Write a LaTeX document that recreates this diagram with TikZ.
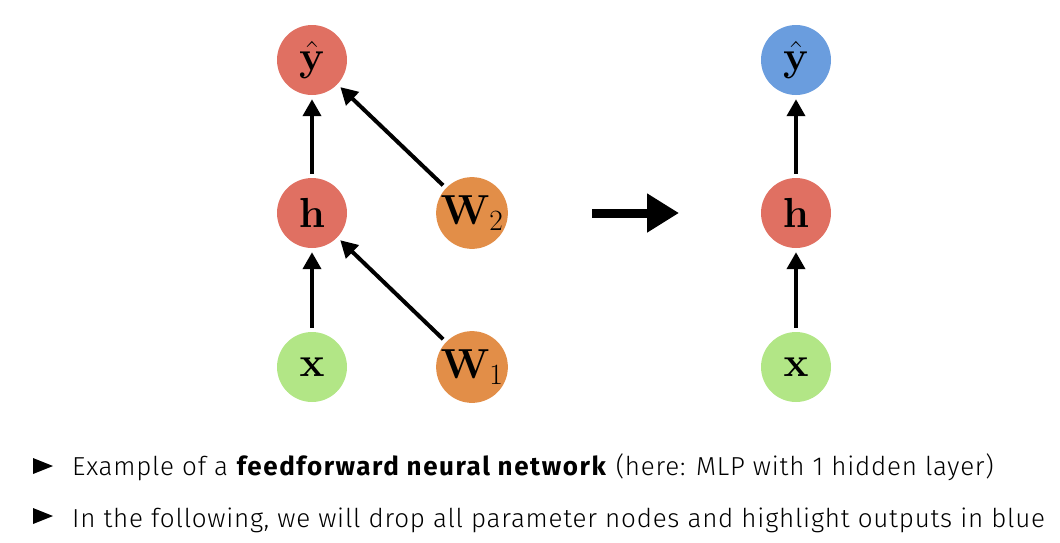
\RequirePackage{fix-cm}
\documentclass[tikz,border=0pt]{standalone}
\usepackage[no-math]{fontspec}
\setmainfont{Fira Sans Light}[BoldFont={Fira Sans Bold}]
\newfontfamily\bulletfont{Fira Sans Light}[LetterSpace=3,BoldFont={Fira Sans Bold},BoldFeatures={LetterSpace=6}]
\usetikzlibrary{arrows.meta}
\definecolor{nred}{RGB}{224,112,98}
\definecolor{norange}{RGB}{226,142,72}
\definecolor{ngreen}{RGB}{178,230,134}
\definecolor{nblue}{RGB}{106,157,222}
\tikzset{
  neuron/.style={circle, minimum size=70pt, inner sep=0pt, font=\fontsize{42}{42}\selectfont},
  conn/.style={line width=4pt, -{Triangle[length=17pt,width=18pt]}, shorten >=4pt, shorten <=4pt},
  bigarrow/.style={line width=9pt, -{Triangle[length=32pt,width=37pt]}},
  bullettext/.style={anchor=base west, inner sep=0pt, font=\bulletfont\fontsize{26}{30}\selectfont},
}
\begin{document}
\begin{tikzpicture}[x=1pt,y=-1pt]
\useasboundingbox (0,0) rectangle (1060,542);
% left network
\node[neuron, fill=nred] (y) at (312,60) {$\hat{\mathbf{y}}$};
\node[neuron, fill=nred] (h) at (312,213) {$\mathbf{h}$};
\node[neuron, fill=ngreen] (x) at (312,367) {$\mathbf{x}$};
\node[neuron, fill=norange] (w2) at (472,213) {$\mathbf{W}_2$};
\node[neuron, fill=norange] (w1) at (472,367) {$\mathbf{W}_1$};
\draw[conn] (h) -- (y);
\draw[conn] (x) -- (h);
\draw[conn] (w2) -- (y);
\draw[conn] (w1) -- (h);
% big arrow
\coordinate (a1) at (592,213);
\coordinate (a2) at (679,213);
\draw[bigarrow] (a1) -- (a2);
% right network
\node[neuron, fill=nblue] (ry) at (796,60) {$\hat{\mathbf{y}}$};
\node[neuron, fill=nred] (rh) at (796,213) {$\mathbf{h}$};
\node[neuron, fill=ngreen] (rx) at (796,367) {$\mathbf{x}$};
\draw[conn] (rh) -- (ry);
\draw[conn] (rx) -- (rh);
% bullets
\fill (33,458) -- (53,466) -- (33,474) -- cycle;
\fill (33,508) -- (53,516) -- (33,524) -- cycle;
\node[bullettext] (t1) at (72,475) {Example of a \textbf{feedforward neural network} (here: MLP with 1 hidden layer)};
\node[bullettext] (t2) at (72,527) {In the following, we will drop all parameter nodes and highlight outputs in blue};
\end{tikzpicture}
\end{document}
